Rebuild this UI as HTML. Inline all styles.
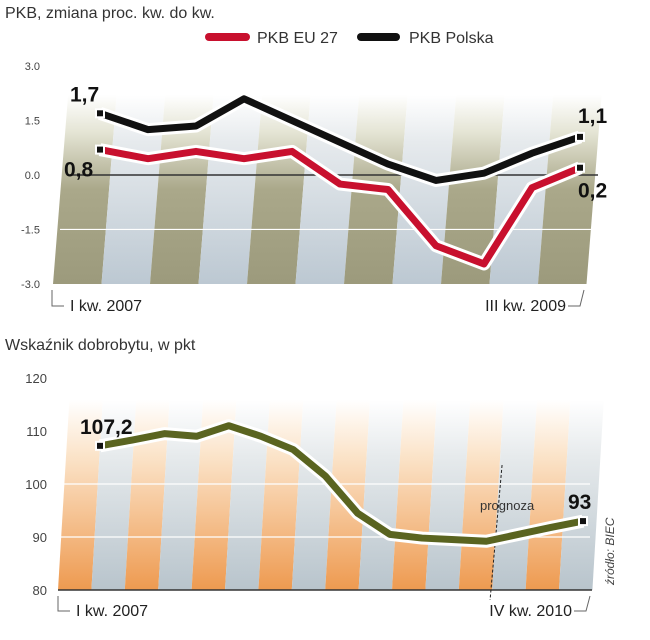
<!DOCTYPE html>
<html><head><meta charset="utf-8"><style>
body{margin:0;background:#fff;}
svg{display:block;font-family:"Liberation Sans",sans-serif;}
</style></head><body>
<svg id="c" width="650" height="640" viewBox="0 0 650 640">
<defs>
<linearGradient id="olive" x1="0" y1="0" x2="0" y2="1">
<stop offset="0" stop-color="#fff" stop-opacity="1"/><stop offset="0.2" stop-color="#e4e4d4"/><stop offset="0.5" stop-color="#aaa88a"/><stop offset="1" stop-color="#9c9a7c"/></linearGradient>
<linearGradient id="blue" x1="0" y1="0" x2="0" y2="1">
<stop offset="0" stop-color="#fff"/><stop offset="0.25" stop-color="#e6eaed"/><stop offset="1" stop-color="#bcc8d2"/></linearGradient>
<linearGradient id="orange" x1="0" y1="0" x2="0" y2="1">
<stop offset="0" stop-color="#fff"/><stop offset="0.3" stop-color="#fbe3c8"/><stop offset="1" stop-color="#ee9a50"/></linearGradient>
<linearGradient id="gray" x1="0" y1="0" x2="0" y2="1">
<stop offset="0" stop-color="#fff"/><stop offset="0.3" stop-color="#e6eaec"/><stop offset="1" stop-color="#b8c4cc"/></linearGradient>
</defs>
<text x="5" y="18" font-size="16" fill="#333">PKB, zmiana proc. kw. do kw.</text>
<rect x="205" y="33" width="45" height="8" rx="4" fill="#c8102e"/>
<text x="257" y="43" font-size="16" fill="#333">PKB EU 27</text>
<rect x="357" y="33" width="43" height="8" rx="4" fill="#111"/>
<text x="409" y="43" font-size="16" fill="#333">PKB Polska</text>
<g id="top"></g>
<text x="5" y="350" font-size="16" fill="#333">Wskaźnik dobrobytu, w pkt</text>
<g id="bot"></g>
</svg>
<script>
const topTicks=[3.0,1.5,0.0,-1.5,-3.0];
const topTickLabels=["3.0","1.5","0.0","-1.5","-3.0"];
const polska=[1.7,1.25,1.35,2.1,1.5,0.9,0.3,-0.15,0.05,0.6,1.05];
const eu27=[0.7,0.45,0.65,0.45,0.65,-0.25,-0.4,-1.95,-2.45,-0.35,0.2];
const endLabels=["1,7","0,8","1,1","0,2"];
const botTicks=[120,110,100,90,80];
const dobrobyt=[107.2,108.3,109.5,109,111,109,106.5,101.5,94.5,90.5,89.8,89.5,89.2,90.5,91.8,93];
const forecastStart=12.3;
const NS="http://www.w3.org/2000/svg";
function mk(p,tag,a){const e=document.createElementNS(NS,tag);for(const k in a)e.setAttribute(k,a[k]);p.appendChild(e);return e;}
const T=document.getElementById('top');
const ty=v=>175-v*36.3, tx=i=>100+i*48;
const slant=0.08;
for(let k=0;k<11;k++){
  const x0=53+k*48.5, x1=x0+48.5, yb=284, yt=95;
  const d=(yb-yt)*slant;
  const s=mk(T,'polygon',{points:`${x0},${yb} ${x1},${yb} ${x1+d},${yt} ${x0+d},${yt}`,fill:k%2?'url(#blue)':'url(#olive)'});
  
  
}
topTicks.forEach((v,i)=>{
  const t=mk(T,'text',{x:40,y:ty(v)+4,'font-size':11,fill:'#444','text-anchor':'end'});t.textContent=topTickLabels[i];
  
  
  if(v===-1.5){const l=mk(T,'line',{x1:60,x2:594,y1:ty(v),y2:ty(v),stroke:'#fff','stroke-width':1.2});}
});
const zl=mk(T,'line',{x1:70,x2:598,y1:ty(0),y2:ty(0),stroke:'#333','stroke-width':1.5});


function series(G,vals,xf,yf,col,name){
  const pts=vals.map((v,i)=>xf(i)+','+yf(v)).join(' ');
  const o=mk(G,'polyline',{points:pts,fill:'none',stroke:'#fff','stroke-width':13,'stroke-linejoin':'round'});
  
  
  const l=mk(G,'polyline',{points:pts,fill:'none',stroke:col,'stroke-width':7,'stroke-linejoin':'round'});
  
  
  [0,vals.length-1].forEach(i=>{
    const r=mk(G,'rect',{x:xf(i)-4,y:yf(vals[i])-4,width:8,height:8,fill:'#111',stroke:'#fff','stroke-width':2});
    
    
  });
}
series(T,polska,tx,ty,'#111','pkb-polska');
series(T,eu27,tx,ty,'#c8102e','pkb-eu27');
function lab(G,x,y,s,name,sz){const t=mk(G,'text',{x:x,y:y,'font-size':sz||21,'font-weight':'bold',fill:'#111'});t.textContent=s;}
lab(T,70,ty(polska[0])-12,endLabels[0],'label-pl-start');
lab(T,64,ty(eu27[0])+27,endLabels[1],'label-eu-start');
lab(T,578,ty(polska[10])-14,endLabels[2],'label-pl-end');
lab(T,578,ty(eu27[10])+30,endLabels[3],'label-eu-end');
mk(T,'polyline',{points:'52,290 52,306 64,306',fill:'none',stroke:'#666','stroke-width':1});
const a1=mk(T,'text',{x:70,y:311,'font-size':16,fill:'#222'});a1.textContent='I kw. 2007';

mk(T,'polyline',{points:'568,306 580,306 584,290',fill:'none',stroke:'#666','stroke-width':1});
const a2=mk(T,'text',{x:566,y:311,'font-size':16,fill:'#222','text-anchor':'end'});a2.textContent='III kw. 2009';

const B=document.getElementById('bot');
const by=v=>590-(v-80)*5.3, bx=i=>100+i*32.2;
for(let k=0;k<16;k++){
  const x0=58+k*33.4, x1=x0+33.4, yb=590, yt=400, d=(yb-yt)*0.06;
  const s=mk(B,'polygon',{points:`${x0},${yb} ${x1},${yb} ${x1+d},${yt} ${x0+d},${yt}`,fill:k%2?'url(#gray)':'url(#orange)'});
  
  
}
botTicks.forEach(v=>{
  const t=mk(B,'text',{x:47,y:by(v)+5,'font-size':13,fill:'#444','text-anchor':'end'});t.textContent=String(v);
  
  
  if(v===100||v===90){const l=mk(B,'line',{x1:60,x2:590,y1:by(v),y2:by(v),stroke:'#fff','stroke-width':1.2});}
});
const bl=mk(B,'line',{x1:58,x2:592,y1:590,y2:590,stroke:'#333','stroke-width':1.5});


const fx=bx(forecastStart);
const fl=mk(B,'line',{x1:fx+6,y1:465,x2:fx-6,y2:600,stroke:'#222','stroke-width':1,'stroke-dasharray':'3,2'});


const pg=mk(B,'text',{x:480,y:510,'font-size':13,fill:'#333'});pg.textContent='prognoza';

series(B,dobrobyt,bx,by,'#5a6420','dobrobyt');
lab(B,80,by(dobrobyt[0])-12,'107,2','label-dob-start');
lab(B,568,by(dobrobyt[15])-12,'93','label-dob-end');
mk(B,'polyline',{points:'58,596 58,611 70,611',fill:'none',stroke:'#666','stroke-width':1});
const b1=mk(B,'text',{x:76,y:616,'font-size':16,fill:'#222'});b1.textContent='I kw. 2007';

mk(B,'polyline',{points:'574,611 586,611 590,596',fill:'none',stroke:'#666','stroke-width':1});
const b2=mk(B,'text',{x:572,y:616,'font-size':16,fill:'#222','text-anchor':'end'});b2.textContent='IV kw. 2010';

const src=mk(B,'text',{x:0,y:0,'font-size':12,fill:'#444','font-style':'italic',transform:'translate(614,585) rotate(-90)'});src.textContent='źródło: BIEC';

</script>
</body></html>
